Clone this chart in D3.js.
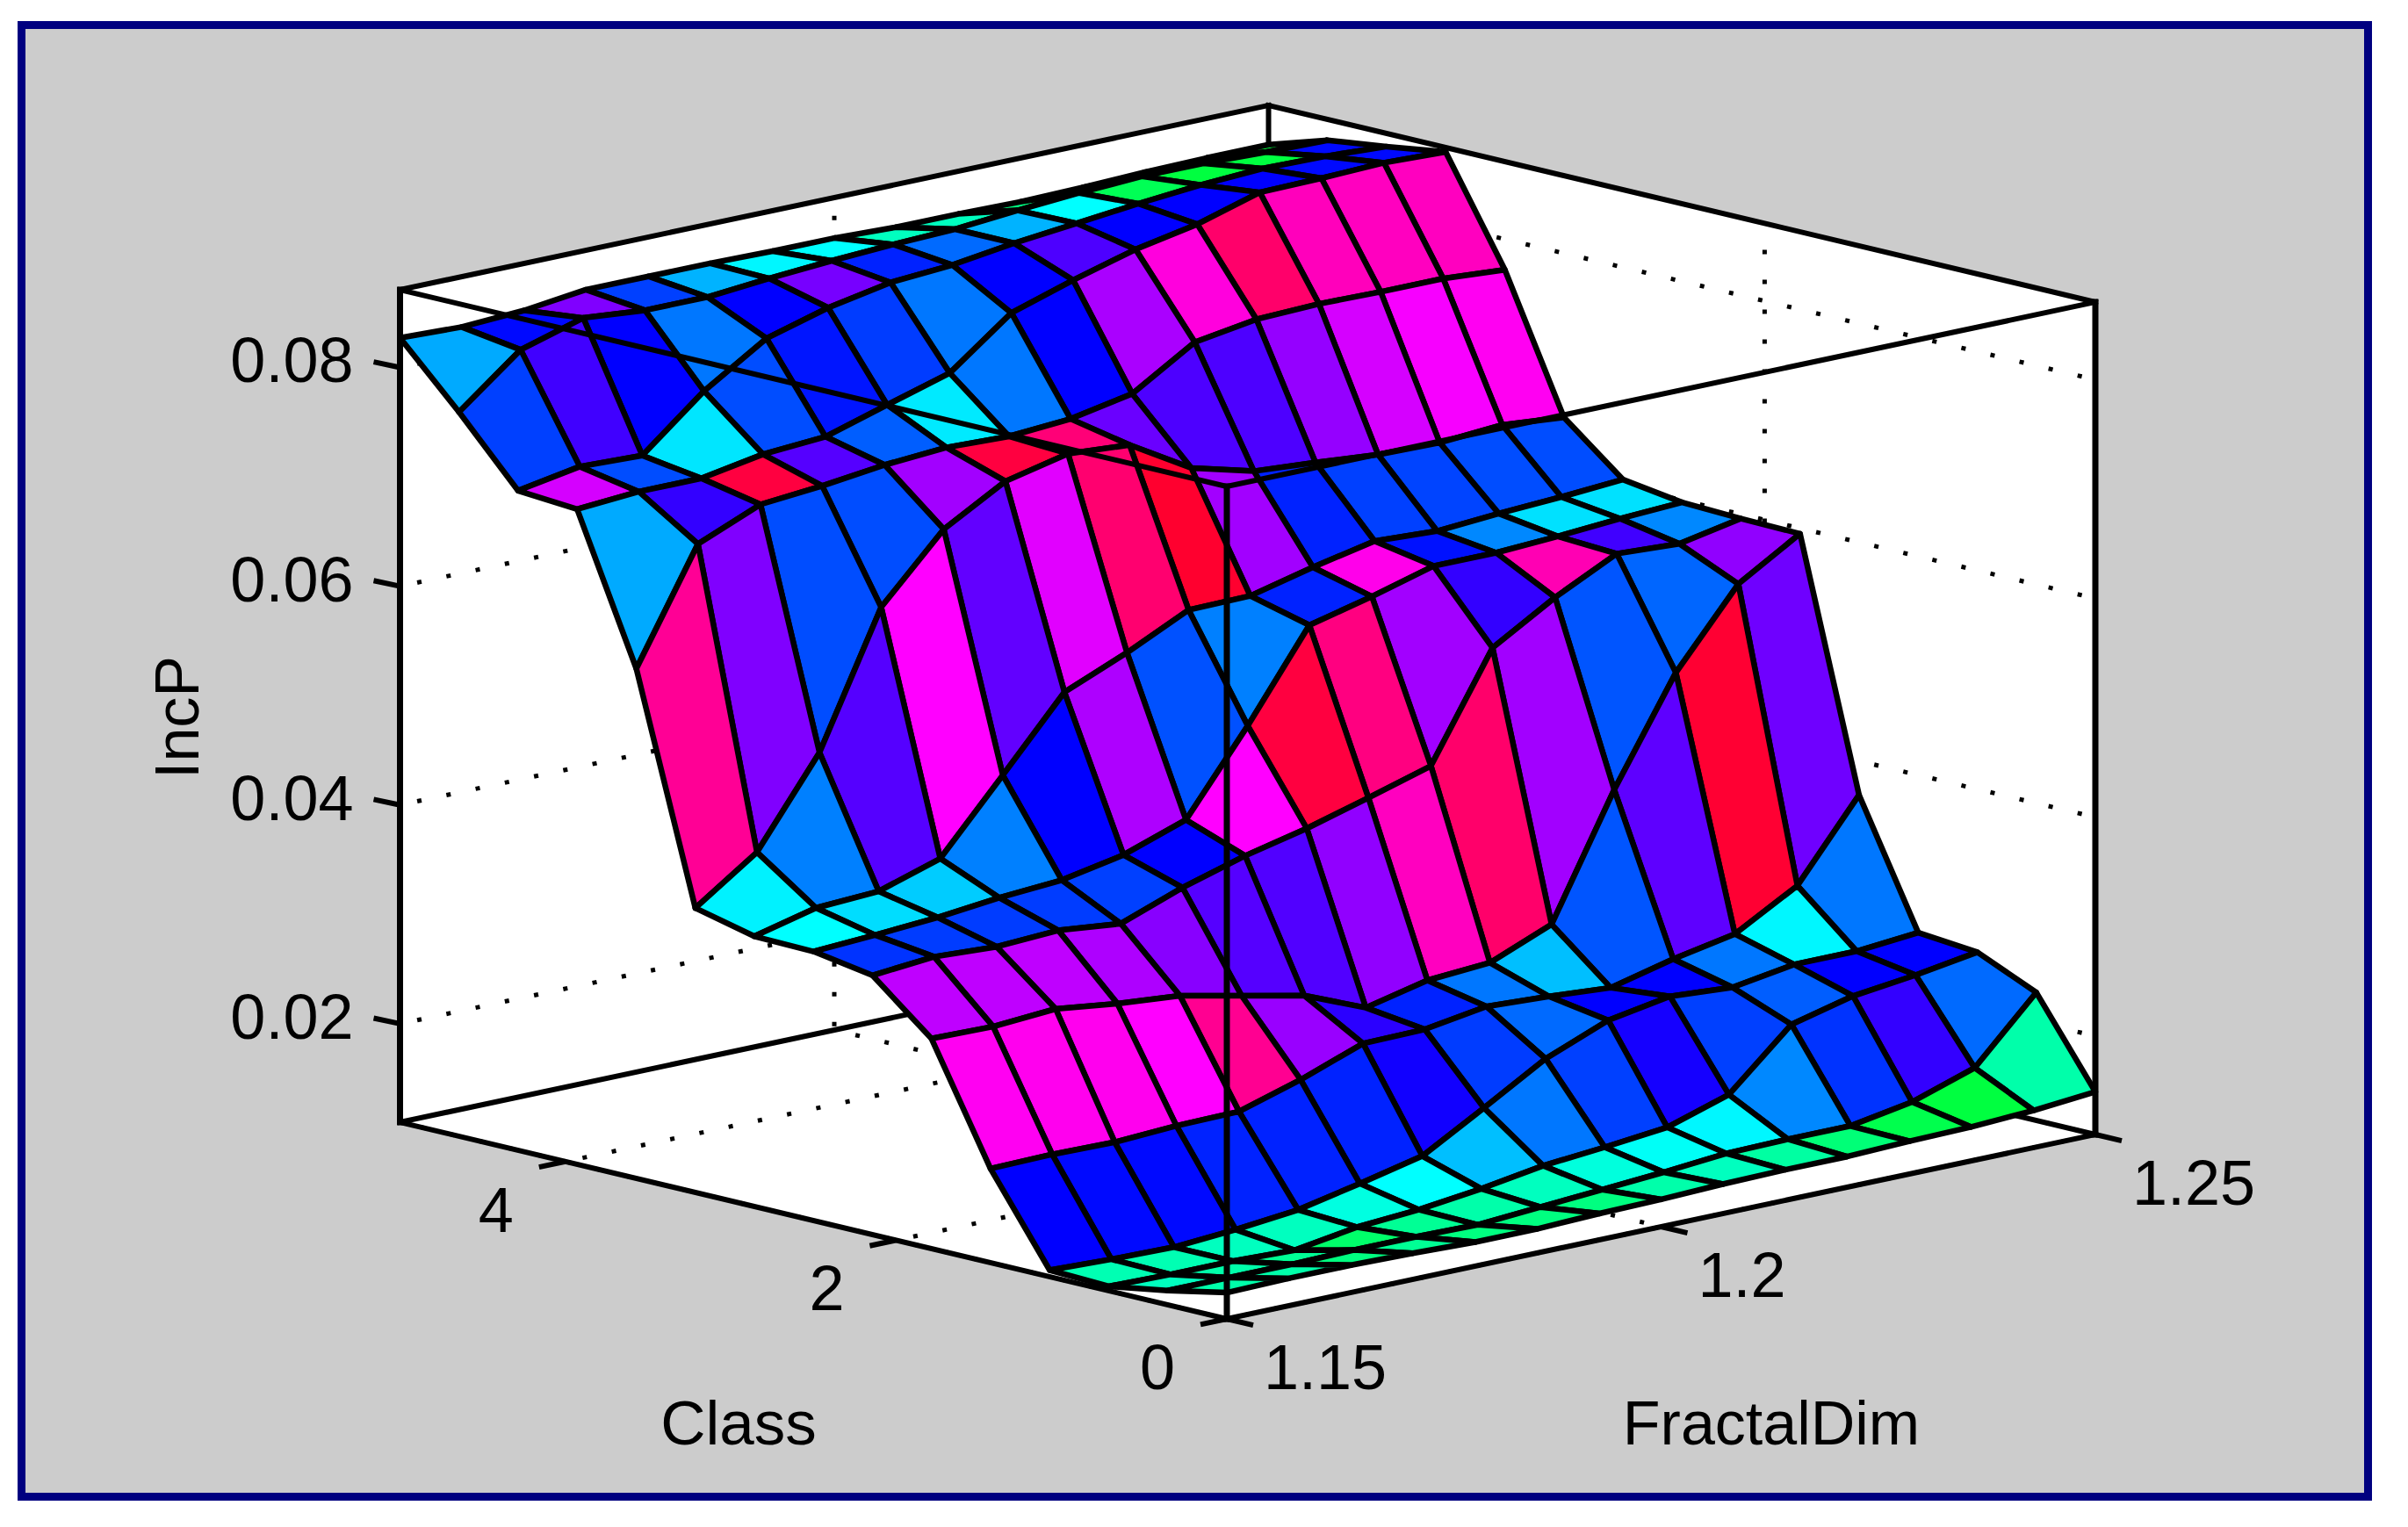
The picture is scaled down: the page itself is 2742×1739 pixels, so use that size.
<!DOCTYPE html>
<html lang="en">
<head>
    <meta charset="utf-8">
    <title>IncP surface</title>
    <script type="text/javascript" src="https://d3js.org/d3.v7.min.js"></script>
</head>
<style>
html, body { margin: 0; padding: 0; background: #fff; }
text { font-family: "Liberation Sans", Arial, sans-serif; fill: #000; }
</style>
<body>
<script type="text/javascript">

    var fractalDim = [1.15, 1.1571, 1.1643, 1.1714, 1.1786, 1.1857, 1.1929, 1.2, 1.2071, 1.2143, 1.2214, 1.2286, 1.2357, 1.2429, 1.25];
    var classLevels = [0, 0.357, 0.714, 1.071, 1.429, 1.786, 2.143, 2.5, 2.857, 3.214, 3.571, 3.929, 4.286, 4.643, 5];

    var fractalTicks = [1.15, 1.2, 1.25],
        classTicks = [0, 2, 4],
        incPTicks = [0.02, 0.04, 0.06, 0.08];

    // one row per class level, one value per fractal dimension
    var incP = [
        [.0134, .0135, .0135, .0134, .0132, .0132, .0134, .0135, .0137, .0138, .0138, .0140, .0141, .0144, .0149],
        [.0123, .0123, .0123, .0124, .0124, .0123, .0127, .0131, .0135, .0140, .0141, .0141, .0151, .0170, .0227],
        [.0114, .0113, .0113, .0111, .0120, .0124, .0131, .0140, .0145, .0151, .0169, .0221, .0235, .0242, .0251],
        [.0116, .0114, .0113, .0117, .0123, .0135, .0148, .0180, .0213, .0236, .0246, .0242, .0251, .0251, .0256],
        [.0196, .0197, .0196, .0199, .0200, .0217, .0238, .0239, .0248, .0245, .0241, .0255, .0266, .0298, .0369],
        [.0302, .0301, .0305, .0298, .0293, .0281, .0269, .0246, .0259, .0263, .0286, .0397, .0492, .0561, .0595],
        [.0347, .0352, .0349, .0352, .0346, .0367, .0384, .0397, .0413, .0430, .0526, .0560, .0588, .0585, .0596],
        [.0356, .0359, .0363, .0369, .0373, .0384, .0404, .0478, .0558, .0572, .0588, .0588, .0591, .0595, .0598],
        [.0357, .0371, .0374, .0392, .0456, .0520, .0544, .0571, .0572, .0586, .0598, .0595, .0599, .0602, .0606],
        [.0370, .0409, .0488, .0609, .0668, .0700, .0713, .0709, .0676, .0661, .0657, .0652, .0651, .0655, .0650],
        [.0576, .0678, .0702, .0707, .0714, .0718, .0716, .0720, .0731, .0766, .0775, .0777, .0776, .0776, .0772],
        [.0709, .0713, .0713, .0723, .0727, .0744, .0761, .0804, .0822, .0838, .0849, .0866, .0867, .0869, .0867],
        [.0713, .0723, .0721, .0768, .0804, .0820, .0831, .0835, .0843, .0849, .0855, .0860, .0863, .0862, .0859],
        [.0772, .0817, .0834, .0829, .0829, .0834, .0838, .0841, .0843, .0848, .0852, .0855, .0855, .0853, .0852],
        [.0827, .0825, .0828, .0835, .0835, .0835, .0834, .0834, .0832, .0832, .0831, .0832, .0834, .0835, .0835]
    ];

    // colour data of each face, as an angle on the hsv colormap
    var faceCData = [
        [160, 160, 150, 155, 150, 150, 150, 160, 165, 158, 148, 138, 135, 160],
        [165, 160, 155, 145, 155, 160, 165, 172, 178, 182, 208, 228, 252, 215],
        [162, 162, 165, 165, 173, 180, 195, 212, 225, 245, 225, 218, 240, 240],
        [240, 238, 238, 232, 232, 232, 244, 226, 215, 240, 240, 212, 182, 212],
        [303, 304, 304, 300, 326, 276, 250, 232, 212, 195, 220, 262, 348, 266],
        [285, 285, 285, 281, 272, 260, 259, 274, 315, 335, 278, 220, 216, 274],
        [228, 226, 226, 226, 225, 240, 300, 345, 330, 278, 252, 318, 255, 208],
        [180, 188, 192, 210, 240, 281, 221, 210, 232, 305, 236, 208, 187, 187],
        [183, 210, 260, 300, 263, 293, 334, 349, 278, 232, 225, 224, 222, 222],
        [325, 270, 222, 222, 278, 345, 332, 265, 258, 258, 275, 290, 298, 303],
        [200, 252, 345, 260, 218, 185, 212, 240, 280, 308, 335, 316, 315, 315],
        [290, 222, 186, 222, 235, 226, 212, 240, 258, 240, 240, 240, 238, 238],
        [225, 255, 240, 212, 240, 268, 232, 215, 198, 180, 140, 135, 135, 238],
        [200, 238, 270, 225, 198, 182, 180, 165, 165, 150, 145, 165, 140, 135]
    ];

    var width = 2742, height = 1739;

    var svg = d3.select("body").append("svg")
        .attr("width", width).attr("height", height)
        .style("display", "block");

    // oblique box: each data axis is a straight screen vector from the front corner
    var front = [1397, 1502],
        xVec = [989, -210],
        cVec = [-941.5, -224];

    var xPos = d3.scaleLinear().domain([1.15, 1.25]).range([0, 1]),
        cPos = d3.scaleLinear().domain([0, 5]).range([0, 1]),
        zPos = d3.scaleLinear().domain([0.011, 0.0871]).range([0, 948]);

    var xMin = 1.15, xMax = 1.25, cMin = 0, cMax = 5, zMin = 0.011, zMax = 0.0871;

    function project(x, c, z) {
        return [
            front[0] + xPos(x) * xVec[0] + cPos(c) * cVec[0],
            front[1] + xPos(x) * xVec[1] + cPos(c) * cVec[1] - zPos(z)
        ];
    }

    var colormap = function(v) { return d3.hsl(v, 1, 0.5).formatHex(); };

    function pathOf(pts, close) {
        return "M" + pts.map(function(p) { return p[0].toFixed(1) + "," + p[1].toFixed(1); }).join("L") + (close ? "Z" : "");
    }

    // frame + grey panel
    svg.append("rect")
        .attr("x", 24.5).attr("y", 28.5).attr("width", 2672).attr("height", 1676)
        .attr("fill", "#cccccc").attr("stroke", "#000080").attr("stroke-width", 9);

    // back walls and floor
    var walls = [
        [[xMin, cMax, zMin], [xMax, cMax, zMin], [xMax, cMax, zMax], [xMin, cMax, zMax]],
        [[xMax, cMin, zMin], [xMax, cMax, zMin], [xMax, cMax, zMax], [xMax, cMin, zMax]],
        [[xMin, cMin, zMin], [xMax, cMin, zMin], [xMax, cMax, zMin], [xMin, cMax, zMin]]
    ];

    svg.append("g").selectAll("path")
        .data(walls)
        .enter().append("path")
        .attr("d", function(w) { return pathOf(w.map(function(p) { return project(p[0], p[1], p[2]); }), true); })
        .attr("fill", "#fff");

    // dotted grid
    var gridLines = [];
    incPTicks.forEach(function(z) {
        gridLines.push([[xMin, cMax, z], [xMax, cMax, z], [xMax, cMin, z]]);
    });
    fractalTicks.forEach(function(x) {
        gridLines.push([[x, cMin, zMin], [x, cMax, zMin], [x, cMax, zMax]]);
    });
    classTicks.forEach(function(c) {
        gridLines.push([[xMin, c, zMin], [xMax, c, zMin], [xMax, c, zMax]]);
    });

    svg.append("g").selectAll("path")
        .data(gridLines)
        .enter().append("path")
        .attr("d", function(l) { return pathOf(l.map(function(p) { return project(p[0], p[1], p[2]); }), false); })
        .attr("fill", "none")
        .attr("stroke", "#000").attr("stroke-width", 5)
        .attr("stroke-dasharray", "5 29")
        .attr("stroke-dashoffset", -20);

    function edge(a, b) { return [a, b]; }

    var backEdges = [
        edge([xMin, cMax, zMin], [xMax, cMax, zMin]),
        edge([xMax, cMin, zMin], [xMax, cMax, zMin]),
        edge([xMin, cMax, zMax], [xMax, cMax, zMax]),
        edge([xMax, cMin, zMax], [xMax, cMax, zMax]),
        edge([xMax, cMax, zMin], [xMax, cMax, zMax])
    ];
    var frontEdges = [
        edge([xMin, cMin, zMax], [xMin, cMax, zMax]),
        edge([xMin, cMin, zMax], [xMax, cMin, zMax]),
        edge([xMin, cMin, zMin], [xMin, cMax, zMin]),
        edge([xMin, cMin, zMin], [xMax, cMin, zMin])
    ];
    var verticalEdges = [
        edge([xMin, cMin, zMin], [xMin, cMin, zMax]),
        edge([xMin, cMax, zMin], [xMin, cMax, zMax]),
        edge([xMax, cMin, zMin], [xMax, cMin, zMax])
    ];

    function drawEdges(list, w) {
        svg.append("g").selectAll("path")
            .data(list)
            .enter().append("path")
            .attr("d", function(l) { return pathOf(l.map(function(p) { return project(p[0], p[1], p[2]); }), false); })
            .attr("fill", "none")
            .attr("stroke", "#000").attr("stroke-width", w)
            .attr("stroke-linecap", "square");
    }

    drawEdges(backEdges, 6);

    // faces, far corner first so the near ones paint over
    var faces = [];
    for (var j = classLevels.length - 2; j >= 0; j--) {
        for (var i = fractalDim.length - 2; i >= 0; i--) {
            faces.push({
                v: faceCData[j][i],
                pts: [
                    project(fractalDim[i], classLevels[j], incP[j][i]),
                    project(fractalDim[i + 1], classLevels[j], incP[j][i + 1]),
                    project(fractalDim[i + 1], classLevels[j + 1], incP[j + 1][i + 1]),
                    project(fractalDim[i], classLevels[j + 1], incP[j + 1][i])
                ]
            });
        }
    }

    svg.append("g").selectAll("path")
        .data(faces)
        .enter().append("path")
        .attr("d", function(f) { return pathOf(f.pts, true); })
        .attr("fill", function(f) { return colormap(f.v); })
        .attr("stroke", "#000").attr("stroke-width", 6.5)
        .attr("stroke-linejoin", "round");

    drawEdges(frontEdges, 6);
    drawEdges(verticalEdges, 7);

    // tick stubs
    var stub = 30;
    var tickG = svg.append("g").attr("stroke", "#000").attr("stroke-width", 6);

    incPTicks.forEach(function(z) {
        var p = project(xMin, cMax, z);
        tickG.append("line")
            .attr("x1", p[0]).attr("y1", p[1])
            .attr("x2", p[0] - stub).attr("y2", p[1] - stub * 0.212);
    });
    classTicks.forEach(function(c) {
        var p = project(xMin, c, zMin);
        tickG.append("line")
            .attr("x1", p[0]).attr("y1", p[1])
            .attr("x2", p[0] - stub).attr("y2", p[1] + stub * 0.212);
    });
    fractalTicks.forEach(function(x) {
        var p = project(x, cMin, zMin);
        tickG.append("line")
            .attr("x1", p[0]).attr("y1", p[1])
            .attr("x2", p[0] + stub).attr("y2", p[1] + stub * 0.238);
    });

    // tick labels
    svg.append("g").selectAll("text")
        .data(incPTicks)
        .enter().append("text")
        .attr("x", function(z) { return project(xMin, cMax, z)[0] - 53; })
        .attr("y", function(z) { return project(xMin, cMax, z)[1] + 17; })
        .attr("text-anchor", "end")
        .attr("font-size", 72)
        .text(function(z) { return z.toFixed(2); });

    svg.append("g").selectAll("text")
        .data(classTicks)
        .enter().append("text")
        .attr("x", function(c) { return project(xMin, c, zMin)[0] - 79; })
        .attr("y", function(c) { return project(xMin, c, zMin)[1] + 80; })
        .attr("text-anchor", "middle")
        .attr("font-size", 72)
        .text(function(c) { return c; });

    svg.append("g").selectAll("text")
        .data(fractalTicks)
        .enter().append("text")
        .attr("x", function(x) { return project(x, cMin, zMin)[0] + 42; })
        .attr("y", function(x) { return project(x, cMin, zMin)[1] + 80; })
        .attr("text-anchor", "start")
        .attr("font-size", 72)
        .text(function(x) { return x; });

    // axis labels
    svg.append("text").attr("x", 841).attr("y", 1645).attr("text-anchor", "middle").attr("font-size", 71).text("Class");
    svg.append("text").attr("x", 2017).attr("y", 1645).attr("text-anchor", "middle").attr("font-size", 70).text("FractalDim");
    svg.append("text")
        .attr("transform", "translate(226,817) rotate(-90)")
        .attr("text-anchor", "middle").attr("font-size", 70).text("IncP");

</script>
</body>
</html>
